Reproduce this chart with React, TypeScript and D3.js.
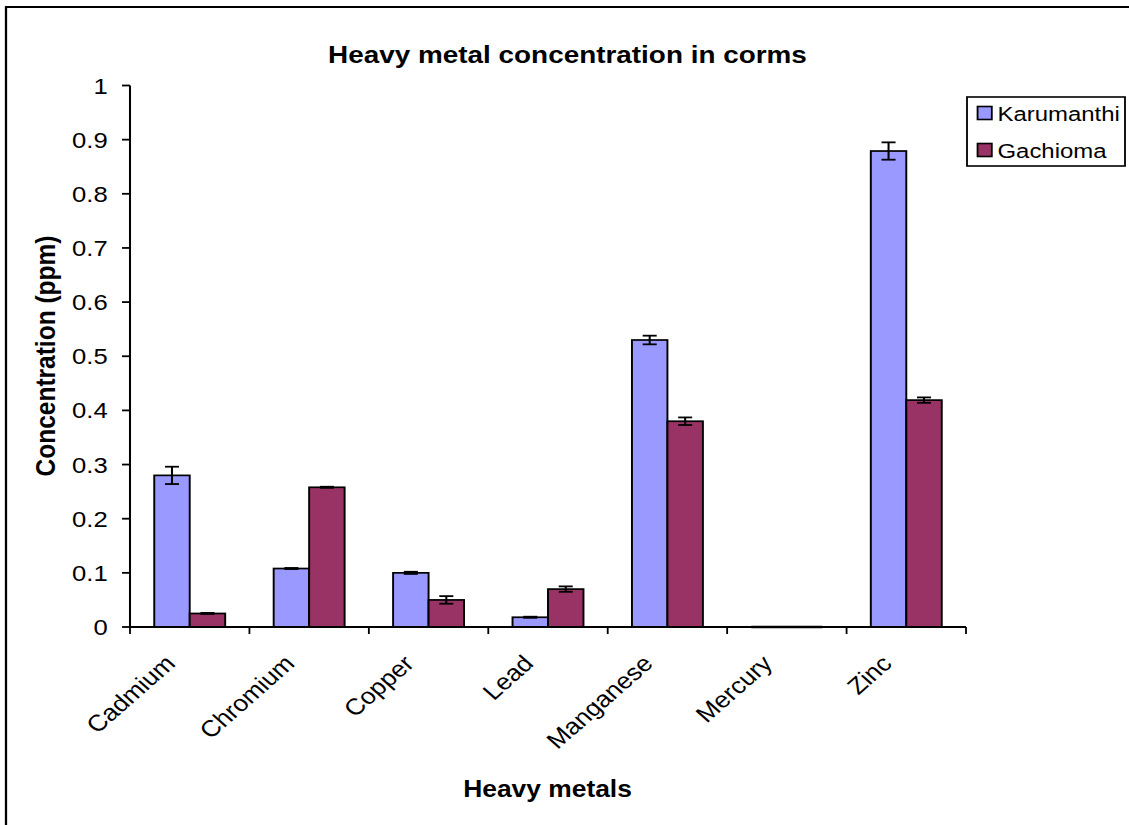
import React from "react";
import * as d3 from "d3";

const categories = ["Cadmium", "Chromium", "Copper", "Lead", "Manganese", "Mercury", "Zinc"];
const seriesNames = ["Karumanthi", "Gachioma"];
const karumanthi = [0.28, 0.108, 0.1, 0.018, 0.53, 0, 0.879];
const gachioma = [0.025, 0.258, 0.05, 0.07, 0.38, 0, 0.419];
const karumanthiErr = [0.016, 0.001, 0.002, 0.001, 0.008, 0, 0.016];
const gachiomaErr = [0.001, 0.001, 0.007, 0.005, 0.007, 0, 0.005];
const yTicks = [0, 0.1, 0.2, 0.3, 0.4, 0.5, 0.6, 0.7, 0.8, 0.9, 1];
const colors = ["#9999FF", "#993366"];

const W = 1129;
const H = 825;
const SX = 1.14; // horizontal stretch of the reference
const FONT = "Arial, 'Liberation Sans', sans-serif";

export default function App() {
  const x = d3.scaleBand<string>().domain(categories).range([130 / SX, 966 / SX]).padding(0);
  const y = d3.scaleLinear().domain([0, 1]).range([627, 85.5]);
  const bw = x.bandwidth() * 0.297;
  const series = [
    { name: seriesNames[0], values: karumanthi, err: karumanthiErr, color: colors[0], off: -1 },
    { name: seriesNames[1], values: gachioma, err: gachiomaErr, color: colors[1], off: 0 },
  ];
  const x0 = x.range()[0];
  const x1 = x.range()[1];
  const capW = 12.3;

  return (
    <svg width={W} height={H} style={{ position: "absolute", left: 0, top: 0, background: "#fff" }}>
      <rect x={0} y={0} width={W} height={H} fill="#fff" />
      <g transform={`scale(${SX},1)`}>
        <path d={`M${6 / SX},${H} V7 H${W / SX + 5}`} fill="none" stroke="#000" strokeWidth={2} />
        <text x={497.8} y={63} textAnchor="middle" fontFamily={FONT} fontWeight="bold" fontSize={24.5} textLength={420} lengthAdjust="spacingAndGlyphs">
          Heavy metal concentration in corms
        </text>
        {/* bars */}
        {series.map((s) =>
          categories.map((c, i) => {
            const cx = (x(c) as number) + x.bandwidth() / 2;
            const bx = cx + s.off * bw;
            const v = s.values[i];
            if (v === 0) {
              return <line key={s.name + c} x1={bx} x2={bx + bw} y1={y(0)} y2={y(0)} stroke="#000" strokeWidth={2.6} />;
            }
            return (
              <rect key={s.name + c} x={bx} y={y(v)} width={bw} height={y(0) - y(v)} fill={s.color} stroke="#000" strokeWidth={1.7} />
            );
          })
        )}
        {/* error bars */}
        {series.map((s) =>
          categories.map((c, i) => {
            const v = s.values[i];
            const e = s.err[i];
            if (v === 0) return null;
            const cx = (x(c) as number) + x.bandwidth() / 2 + s.off * bw + bw / 2;
            return (
              <g key={"e" + s.name + c} stroke="#000" strokeWidth={1.8}>
                <line x1={cx} x2={cx} y1={y(v + e)} y2={y(v - e)} />
                <line x1={cx - capW / 2} x2={cx + capW / 2} y1={y(v + e)} y2={y(v + e)} />
                <line x1={cx - capW / 2} x2={cx + capW / 2} y1={y(v - e)} y2={y(v - e)} />
              </g>
            );
          })
        )}
        {/* y axis */}
        <line x1={x0} x2={x0} y1={y(1)} y2={y(0)} stroke="#000" strokeWidth={1.8} />
        {yTicks.map((t) => (
          <g key={"yt" + t}>
            <line x1={x0 - 7} x2={x0} y1={y(t)} y2={y(t)} stroke="#000" strokeWidth={1.8} />
            <text x={94.5} y={y(t)} dy="0.36em" textAnchor="end" fontFamily={FONT} fontSize={22.5}>
              {String(t)}
            </text>
          </g>
        ))}
        {/* x axis */}
        <line x1={x0} x2={x1} y1={y(0)} y2={y(0)} stroke="#000" strokeWidth={1.8} />
        {[...categories.map((c) => x(c) as number), x1].map((px, i) => (
          <line key={"xt" + i} x1={px} x2={px} y1={y(0)} y2={y(0) + 7} stroke="#000" strokeWidth={1.6} />
        ))}
        {categories.map((c) => {
          const cx = (x(c) as number) + x.bandwidth() / 2;
          return (
            <text key={"xl" + c} transform={`translate(${cx - 11.5},665) rotate(-45)`} textAnchor="end" fontFamily={FONT} fontSize={23}>
              {c}
            </text>
          );
        })}
        <text x={480.3} y={797} textAnchor="middle" fontFamily={FONT} fontWeight="bold" fontSize={23.5} textLength={148} lengthAdjust="spacingAndGlyphs">
          Heavy metals
        </text>
        <text transform={`translate(48.2,356) rotate(-90)`} textAnchor="middle" fontFamily={FONT} fontWeight="bold" fontSize={24.5}>
          Concentration (ppm)
        </text>
        {/* legend */}
        <rect x={967 / SX} y={97} width={(1125 - 967) / SX} height={69} fill="#fff" stroke="#000" strokeWidth={1.6} />
        {series.map((s, i) => {
          const cy = 113 + i * 37;
          return (
            <g key={"lg" + s.name}>
              <rect x={857.5} y={cy - 6.5} width={12.5} height={13} fill={s.color} stroke="#000" strokeWidth={1.6} />
              <text x={875} y={cy} dy="0.36em" fontFamily={FONT} fontSize={21}>
                {s.name}
              </text>
            </g>
          );
        })}
      </g>
    </svg>
  );
}
